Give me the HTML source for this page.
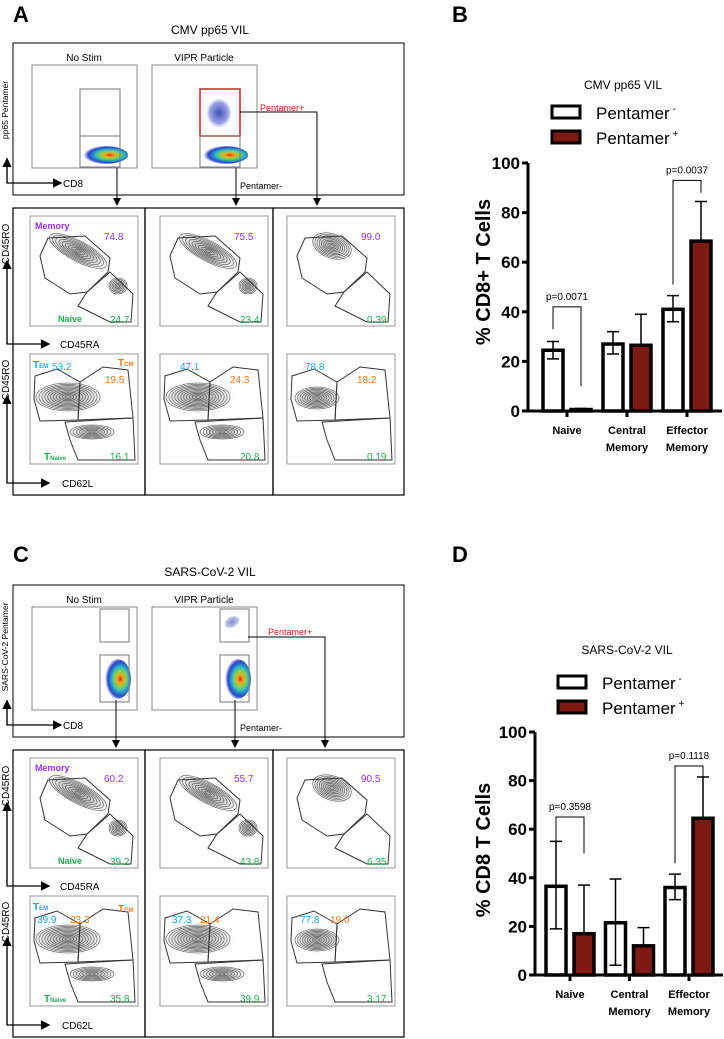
<!DOCTYPE html>
<html><head><meta charset="utf-8">
<style>
html,body{margin:0;padding:0;background:#fff;}
svg{display:block;font-family:"Liberation Sans",sans-serif;}
</style></head>
<body>
<svg id="fig" width="724" height="1039" viewBox="0 0 724 1039" xmlns="http://www.w3.org/2000/svg">
<defs>
<radialGradient id="heat" cx="0.62" cy="0.5" r="0.55">
<stop offset="0" stop-color="#e8201c"/><stop offset="0.18" stop-color="#f0a020"/><stop offset="0.35" stop-color="#9bd040"/><stop offset="0.55" stop-color="#28b8c8"/><stop offset="0.8" stop-color="#2a40c8"/><stop offset="1" stop-color="#2a40c8" stop-opacity="0"/>
</radialGradient>
<radialGradient id="blue" cx="0.5" cy="0.5" r="0.5">
<stop offset="0" stop-color="#2a3cb0"/><stop offset="0.7" stop-color="#5a6ad0" stop-opacity="0.7"/><stop offset="1" stop-color="#8090e0" stop-opacity="0"/>
</radialGradient>
<radialGradient id="gray" cx="0.5" cy="0.5" r="0.5">
<stop offset="0" stop-color="#555"/><stop offset="0.5" stop-color="#888" stop-opacity="0.8"/><stop offset="1" stop-color="#bbb" stop-opacity="0"/>
</radialGradient>
<marker id="arr" markerWidth="8" markerHeight="8" refX="6" refY="4" orient="auto"><path d="M0,0 L8,4 L0,8 z" fill="#000"/></marker>
</defs>
</svg>
<script>
// ---------------- bar chart data ----------------
const categories = ["Naive", "Central|Memory", "Effector|Memory"];
const yTicks = [0, 20, 40, 60, 80, 100];
const bNeg = [24.5, 27, 41];
const bNegLo = [21, 23, 36];
const bNegHi = [28, 32, 46.5];
const bPos = [0.6, 26.5, 68.5];
const bPosHi = [1, 39, 84.5];
const bPvals = ["p=0.0071", "p=0.0037"];
const dNeg = [36.5, 21.5, 36];
const dNegLo = [19, 4, 31];
const dNegHi = [55, 39.5, 41.5];
const dPos = [17, 12, 64.5];
const dPosHi = [37, 19.5, 81.5];
const dPvals = ["p=0.3598", "p=0.1118"];

const svg = document.getElementById('fig');
const NS = 'http://www.w3.org/2000/svg';
function mk(tag, parent){ const e = document.createElementNS(NS, tag); (parent||svg).appendChild(e); return e; }
function set(e, o){ for (const k in o) e.setAttribute(k, o[k]); return e; }
function txt(s, x, y, size, opts, parent){
  const t = mk('text', parent);
  set(t, Object.assign({x:x, y:y, 'font-size':size, fill:'#000'}, opts||{}));
  t.textContent = s; return t;
}
function line(x1,y1,x2,y2,w,parent,col){ return set(mk('line',parent),{x1,y1,x2,y2,stroke:col||'#000','stroke-width':w}); }

// ---------------- bar charts ----------------
function drawBarChart(cfg){
  const g = mk('g');
  
  
  const yS = v => cfg.y0 - v * cfg.pxPer;
  const xC = i => cfg.c0 + i * cfg.step;
  const tt = txt(cfg.title, cfg.titleX, cfg.titleY, 12, {'text-anchor':'middle'}, g);
  
  
  const lg = mk('g', g);
  
  
  const l1 = set(mk('rect', lg), {x:cfg.legX, y:cfg.legY, width:28, height:12, fill:'#fff', stroke:'#000','stroke-width':3});
  
  
  const l2 = set(mk('rect', lg), {x:cfg.legX, y:cfg.legY+25, width:28, height:12, fill:'#7d1a12', stroke:'#000','stroke-width':3});
  
  
  const t1 = txt('Pentamer', cfg.legX+44, cfg.legY+13, 17, {}, lg);
  const s1 = mk('tspan', t1); set(s1, {dy:-7, 'font-size':10}); s1.textContent = ' -';
  
  
  const t2 = txt('Pentamer', cfg.legX+44, cfg.legY+38, 17, {}, lg);
  const s2 = mk('tspan', t2); set(s2, {dy:-7, 'font-size':10}); s2.textContent = ' +';
  
  
  const ya = line(cfg.ax, yS(100), cfg.ax, yS(0)+1.5, 3, g);
  
  
  const xa = line(cfg.ax-1.5, yS(0), cfg.axEnd, yS(0), 3, g);
  
  
  yTicks.forEach(v => {
    const tk = line(cfg.ax-6, yS(v), cfg.ax, yS(v), 3, g);
    
    
    const tl = txt(String(v), cfg.ax-8, yS(v)+6, 17, {'text-anchor':'end','font-weight':'bold'}, g);
    
    
  });
  const yt = txt(cfg.yLabel, 0, 0, 20, {'text-anchor':'middle','font-weight':'bold', transform:`translate(${cfg.ylX},${cfg.ylY}) rotate(-90)`}, g);
  
  
  categories.forEach((c, i) => {
    const tk = line(xC(i), yS(0), xC(i), yS(0)+6, 3, g);
    
    
    c.split('|').forEach((p, j) => {
      const cl = txt(p, xC(i), yS(0)+23+j*17, 11, {'text-anchor':'middle','font-weight':'bold'}, g);
      
      
    });
    const x1 = xC(i) - 24, x2 = xC(i) + 4, w = 20;
    const nb = set(mk('rect', g), {x:x1, y:yS(cfg.neg[i]), width:w, height:yS(0)-yS(cfg.neg[i]), fill:'#fff', stroke:'#000','stroke-width':3.5});
    
    
    const pb = set(mk('rect', g), {x:x2, y:yS(cfg.pos[i]), width:w, height:Math.max(0.5,yS(0)-yS(cfg.pos[i])), fill:'#7d1a12', stroke:'#000','stroke-width':3.5});
    
    
    const cx1 = x1 + w/2, cx2 = x2 + w/2;
    const e1 = mk('path', g);
    set(e1, {d:`M${cx1},${yS(cfg.negLo[i])}V${yS(cfg.negHi[i])}M${cx1-6},${yS(cfg.negHi[i])}H${cx1+6}M${cx1-6},${yS(cfg.negLo[i])}H${cx1+6}`, stroke:'#000','stroke-width':1.5, fill:'none'});
    
    
    const e2 = mk('path', g);
    set(e2, {d:`M${cx2},${yS(cfg.pos[i])}V${yS(cfg.posHi[i])}M${cx2-6},${yS(cfg.posHi[i])}H${cx2+6}`, stroke:'#000','stroke-width':1.5, fill:'none'});
    
    
  });
  cfg.brackets.forEach((b, k) => {
    const i = b.i;
    const cx1 = xC(i) - 14, cx2 = xC(i) + 14;
    const p = mk('path', g);
    set(p, {d:`M${cx1},${yS(b.l)}V${yS(b.top)}H${cx2}V${yS(b.r)}`, stroke:'#000','stroke-width':1, fill:'none'});
    
    
    const pt = txt(cfg.pvals[k], xC(i), yS(b.top)-7, 10, {'text-anchor':'middle'}, g);
    
    
  });
}
drawBarChart({name:'chart-b', title:'CMV pp65 VIL', titleX:623, titleY:89, legX:552, legY:106,
  y0:411, pxPer:2.48, ax:528, axEnd:722, c0:567, step:60, yLabel:'% CD8+ T Cells', ylX:490, ylY:272,
  neg:bNeg, negLo:bNegLo, negHi:bNegHi, pos:bPos, posHi:bPosHi, pvals:bPvals,
  brackets:[{i:0, top:42, l:33, r:10},{i:2, top:93, l:51, r:88}]});
drawBarChart({name:'chart-d', title:'SARS-CoV-2 VIL', titleX:627, titleY:654, legX:558, legY:676,
  y0:975, pxPer:2.43, ax:535, axEnd:723, c0:570, step:59.5, yLabel:'% CD8 T Cells', ylX:490, ylY:850,
  neg:dNeg, negLo:dNegLo, negHi:dNegHi, pos:dPos, posHi:dPosHi, pvals:dPvals,
  brackets:[{i:0, top:65, l:55, r:50},{i:2, top:86, l:46, r:81}]});

[['A',13,22],['B',452,22],['C',13,562],['D',452,562]].forEach(a => {
  const t = txt(a[0], a[1], a[2], 22, {'font-weight':'bold'});
  
  
});

// ---------------- flow cytometry panels ----------------
function rect(x,y,w,h,stroke,sw,parent){ return set(mk('rect',parent),{x,y,width:w,height:h,fill:'none',stroke:stroke||'#000','stroke-width':sw||1}); }
function poly(pts,parent,col,sw){ return set(mk('polygon',parent),{points:pts.map(p=>p.join(',')).join(' '),fill:'none',stroke:col||'#333','stroke-width':sw||1}); }
function ell(cx,cy,rx,ry,rot,fill,parent,op){ return set(mk('ellipse',parent),{cx,cy,rx,ry,fill,transform:`rotate(${rot||0} ${cx} ${cy})`,opacity:op==null?1:op}); }
function contours(cx,cy,rx,ry,rot,n,parent){
  ell(cx,cy,rx*1.15,ry*1.25,rot,'url(#gray)',parent,0.5);
  for(let k=1;k<=n;k++){
    const f=k/n;
    set(ell(cx,cy,rx*f,ry*f,rot,'none',parent),{stroke:'#555','stroke-width':0.6});
  }
}
function flowPanel(oy, isC){
  const P = mk('g');
  
  
  const ttl = txt(isC?'SARS-CoV-2 VIL':'CMV pp65 VIL', 210, oy+34, 12, {'text-anchor':'middle'}, P);
  
  
  const top = rect(13, oy+43, 391, 152, '#000', 1, P);
  
  
  [[32,'No Stim'],[152,'VIPR Particle']].forEach((d,k) => {
    const px=d[0], py=oy+65;
    const b = rect(px, py, 105, 103, '#888', 1, P);
    
    
    txt(d[1], px+52, oy+61, 10, {'text-anchor':'middle'}, P);
    if(!isC){
      ell(px+72, py+90, 24, 9, 0, 'url(#heat)', P);
      if(k){ ell(px+67, py+48, 13, 15, 0, 'url(#blue)', P, 0.9); }
      rect(px+48, py+24, 40, 47, k?'#d02020':'#777', k?1.5:1, P);
      rect(px+48, py+71, 40, 31, '#777', 1, P);
    } else {
      ell(px+85, py+72, 14, 20, 0, 'url(#heat)', P);
      if(k){ ell(px+80, py+15, 9, 6, -30, 'url(#blue)', P, 0.6); }
      rect(px+68, py+2, 29, 33, '#777', 1, P);
      rect(px+68, py+48, 29, 47, '#777', 1, P);
    }
  });
  const ax = mk('path', P);
  set(ax, {d:`M7,${oy+158}V${oy+183}H60`, stroke:'#000','stroke-width':1.2, fill:'none','marker-end':'url(#arr)'});
  txt('CD8', 63, oy+187, 10, {}, P);
  set(mk('path',P),{d:`M7,${oy+183}V${oy+160}`,stroke:'#000','stroke-width':1.2,'marker-end':'url(#arr)'});
  const yl = txt(isC?'SARS-CoV-2 Pentamer':'pp65 Pentamer', 0, 0, 8.5, {'text-anchor':'middle', transform:`translate(8,${oy+(isC?105:110)}) rotate(-90)`}, P);
  
  
  txt('Pentamer-', 240, oy+189, 9, {}, P);
  const pl = txt('Pentamer+', isC?268:260, oy+(isC?93:111), 9, {fill:'#d02020'}, P);
  
  
  const ay = isC ? [116,235,325] : [117,236,317];
  set(mk('path',P),{d:`M${ay[0]},${oy+(isC?158:168)}V${oy+204}`,stroke:'#000','stroke-width':1,'marker-end':'url(#arr)'});
  set(mk('path',P),{d:`M${ay[1]},${oy+(isC?158:168)}V${oy+204}`,stroke:'#000','stroke-width':1,'marker-end':'url(#arr)'});
  set(mk('path',P),{d:`M${isC?248:240},${oy+(isC?95:112)}H${ay[2]}V${oy+204}`,stroke:'#000','stroke-width':1,fill:'none','marker-end':'url(#arr)'});
  const by = oy+208, bh = 287;
  [[13,132],[145,128],[273,131]].forEach((c,k)=>{
    const r = rect(c[0], by, c[1], bh, '#000', 1.2, P);
    
    
  });
  const vals = isC ? [['60.2','39.2','39.9','23.3','35.8'],['55.7','43.8','37.3','21.4','39.9'],['90.5','6.35','77.8','19.0','3.17']]
                   : [['74.8','24.7','53.2','19.5','16.1'],['75.5','23.4','47.1','24.3','20.8'],['99.0','0.39','78.8','18.2','0.19']];
  const temX = isC ? [7,12,13] : [22,20,18];
  const tcmX = isC ? [40,40,43] : [75,70,70];
  const cols = [30,160,287];
  cols.forEach((x0,k)=>{
    const y1 = oy+216, y2 = oy+354;
    const b1 = rect(x0, y1, 108, 110, '#999', 1, P);
    
    
    const b2 = rect(x0, y2, 108, 110, '#999', 1, P);
    
    
    if(k<2){ contours(x0+48, y1+35, 32, 10, 28, 9, P); contours(x0+88, y1+70, 9, 8, 0, 6, P); }
    else { contours(x0+45, y1+30, 20, 12, 20, 9, P); }
    poly([[x0+18,y1+22],[x0+55,y1+20],[x0+80,y1+42],[x0+78,y1+56],[x0+57,y1+76],[x0+40,y1+78],[x0+15,y1+62],[x0+10,y1+40]],P);
    poly([[x0+57,y1+76],[x0+80,y1+56],[x0+103,y1+78],[x0+101,y1+106],[x0+80,y1+106],[x0+48,y1+90]],P);
    txt(vals[k][0], x0+74, y1+24, 10, {fill:'#9b30ff'}, P);
    txt(vals[k][1], x0+(vals[k][1].length>3?80:84), y1+107, 10, {fill:'#1fb050'}, P);
    if(k<2){ contours(x0+38, y2+43, 32, 14, 0, 11, P); contours(x0+62, y2+78, 22, 7, 0, 7, P); }
    else { contours(x0+30, y2+44, 22, 11, 0, 9, P); }
    poly([[x0+5,y2+22],[x0+27,y2+15],[x0+50,y2+28],[x0+48,y2+66],[x0+10,y2+67],[x0+4,y2+45]],P);
    poly([[x0+50,y2+28],[x0+73,y2+13],[x0+98,y2+16],[x0+103,y2+64],[x0+48,y2+66]],P);
    poly([[x0+35,y2+68],[x0+103,y2+64],[x0+105,y2+106],[x0+48,y2+106],[x0+40,y2+86]],P);
    txt(vals[k][2], x0+temX[k], y2+(isC?27:16), 10, {fill:'#1aa8e8'}, P);
    txt(vals[k][3], x0+tcmX[k], y2+(isC?27:29), 10, {fill:'#f07a20'}, P);
    txt(vals[k][4], x0+80, y2+106, 10, {fill:'#1fb050'}, P);
  });
  const mem = txt('Memory', 35, oy+229, 9, {fill:'#9b30ff','font-weight':'bold'}, P);
  
  
  txt('Naive', 58, oy+322, 9, {fill:'#1fb050','font-weight':'bold'}, P);
  const tem = txt('T', 33, oy+368, 10, {fill:'#1aa8e8','font-weight':'bold'}, P);
  const tems = mk('tspan', tem); set(tems,{'font-size':6}); tems.textContent='EM';
  const tcm = txt('T', 118, oy+(isC?370:366), 10, {fill:'#f07a20','font-weight':'bold'}, P);
  const tcms = mk('tspan', tcm); set(tcms,{'font-size':6}); tcms.textContent='CM';
  const tn = txt('T', 44, oy+460, 10, {fill:'#1fb050','font-weight':'bold'}, P);
  const tns = mk('tspan', tn); set(tns,{'font-size':6}); tns.textContent='Naive';
  set(mk('path',P),{d:`M7,${oy+265}V${oy+344}H48`,stroke:'#000','stroke-width':1.2,fill:'none','marker-end':'url(#arr)'});
  set(mk('path',P),{d:`M7,${oy+344}V${oy+262}`,stroke:'#000','stroke-width':1.2,'marker-end':'url(#arr)'});
  txt('CD45RA', 60, oy+348, 10, {}, P);
  txt('CD45RO', 0, 0, 10, {'text-anchor':'middle', transform:`translate(9,${oy+244}) rotate(-90)`}, P);
  set(mk('path',P),{d:`M7,${oy+400}V${oy+483}H48`,stroke:'#000','stroke-width':1.2,fill:'none','marker-end':'url(#arr)'});
  set(mk('path',P),{d:`M7,${oy+483}V${oy+397}`,stroke:'#000','stroke-width':1.2,'marker-end':'url(#arr)'});
  txt('CD62L', 62, oy+487, 10, {}, P);
  txt('CD45RO', 0, 0, 10, {'text-anchor':'middle', transform:`translate(9,${oy+380}) rotate(-90)`}, P);
}
flowPanel(0, false);
flowPanel(542, true);
</script>
</body></html>
